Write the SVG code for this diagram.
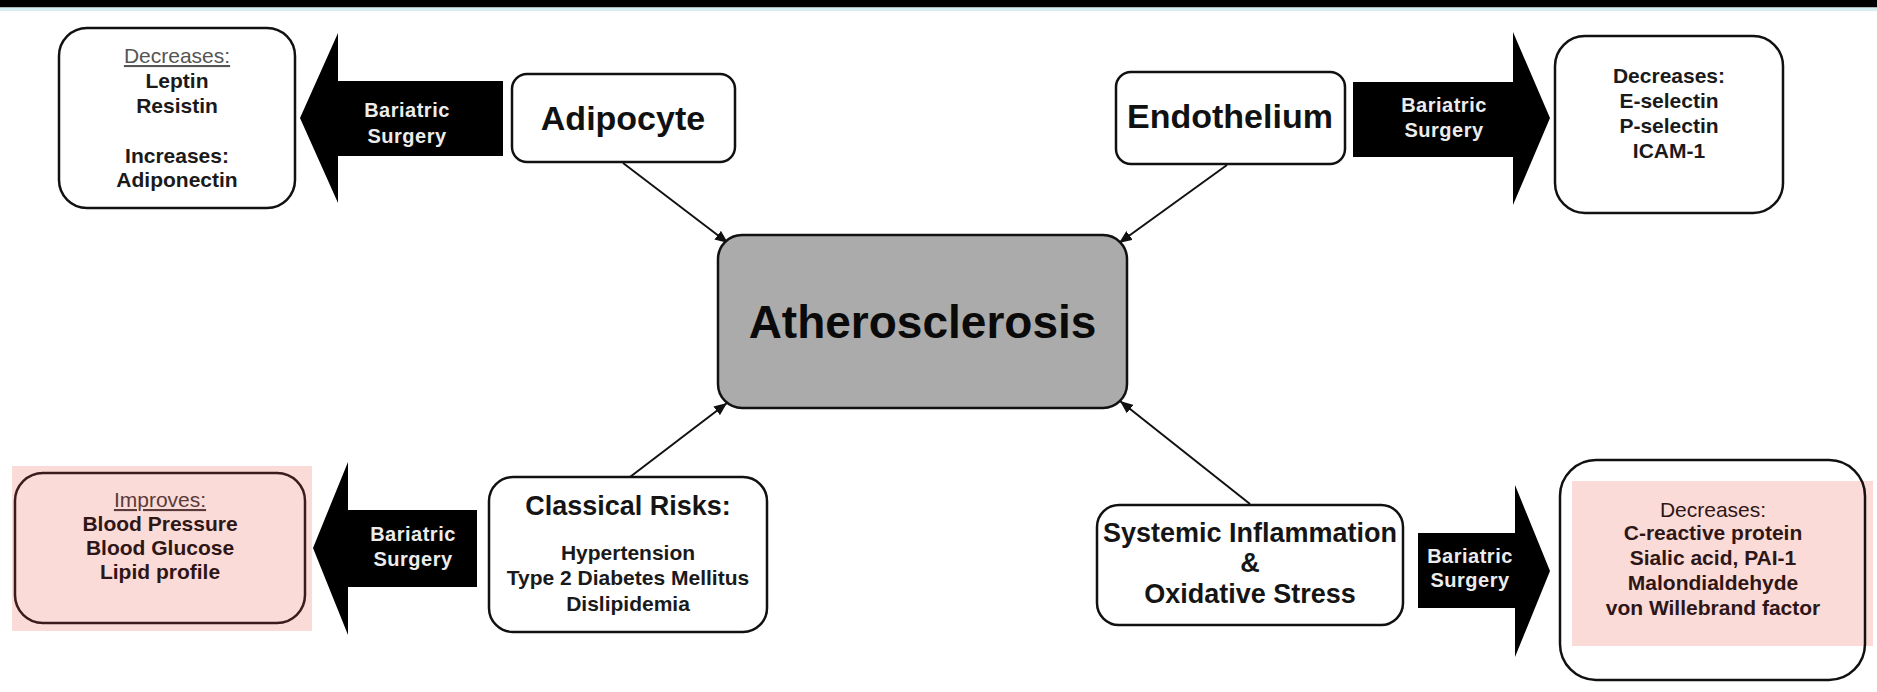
<svg xmlns="http://www.w3.org/2000/svg" width="1877" height="692" viewBox="0 0 1877 692">
<defs>
<style>
text{font-family:"Liberation Sans",Arial,sans-serif;text-anchor:middle;}
.box{fill:#fff;stroke:#111;stroke-width:2.5;}
.t21{font-size:21px;font-weight:bold;fill:#1a1a1a;}
.hdr{font-size:21px;font-weight:normal;fill:#555;text-decoration:underline;}
.big{font-size:34px;font-weight:bold;fill:#111;}
.mid{font-size:27px;font-weight:bold;fill:#151515;}
.arrow{fill:#000;}
.at{font-size:20px;font-weight:bold;fill:#ececec;letter-spacing:0.5px;}
.pk{fill:#2e1616;}
.conn{stroke:#111;stroke-width:2;fill:none;marker-end:url(#ah);}
</style>
<marker id="ah" viewBox="0 0 12 10" refX="12" refY="5" markerWidth="13" markerHeight="11" markerUnits="userSpaceOnUse" orient="auto">
<path d="M0,0 L12,5 L0,10 z" fill="#111"/>
</marker>
</defs>
<rect x="0" y="0" width="1877" height="692" fill="#fff"/>
<rect x="0" y="0" width="1877" height="7.5" fill="#000"/>
<rect x="0" y="7.5" width="1877" height="3.5" fill="#d6edf1"/>

<g id="connectors">
<line class="conn" x1="623" y1="163" x2="728" y2="243"/>
<line class="conn" x1="1227" y1="165" x2="1119" y2="243"/>
<line class="conn" x1="630" y1="477" x2="727" y2="403"/>
<line class="conn" x1="1250" y1="504" x2="1120" y2="401"/>
</g>

<g id="athero">
<rect x="718" y="235" width="409" height="173" rx="24" fill="#ababab" stroke="#111" stroke-width="2.5"/>
<text x="922.5" y="338" style="font-size:46px;font-weight:bold;fill:#0a0a0a">Atherosclerosis</text>
</g>

<g id="adipocyte">
<rect class="box" x="512" y="74" width="223" height="88" rx="15"/>
<text class="big" x="623" y="130">Adipocyte</text>
</g>

<g id="endothelium">
<rect class="box" x="1116" y="72" width="229" height="92" rx="15"/>
<text class="big" x="1230" y="128">Endothelium</text>
</g>

<g id="classical">
<rect class="box" x="489" y="477" width="278" height="155" rx="24"/>
<text class="mid" x="628" y="515">Classical Risks:</text>
<text class="t21" x="628" y="560">Hypertension</text>
<text class="t21" x="628" y="585">Type 2 Diabetes Mellitus</text>
<text class="t21" x="628" y="611">Dislipidemia</text>
</g>

<g id="systemic">
<rect class="box" x="1097" y="505" width="306" height="120" rx="22"/>
<text class="mid" x="1250" y="542">Systemic Inflammation</text>
<text class="mid" x="1250" y="572">&amp;</text>
<text class="mid" x="1250" y="603">Oxidative Stress</text>
</g>

<g id="arrow-tl">
<polygon class="arrow" points="300,118 338,33 338,81 503,81 503,156 338,156 338,203"/>
<text class="at" x="407" y="117">Bariatric</text>
<text class="at" x="407" y="143">Surgery</text>
</g>

<g id="arrow-tr">
<polygon class="arrow" points="1353,82 1513,82 1513,32 1550,118 1513,205 1513,157 1353,157"/>
<text class="at" x="1444" y="112">Bariatric</text>
<text class="at" x="1444" y="137">Surgery</text>
</g>

<g id="arrow-bl">
<polygon class="arrow" points="313,548 348,462 348,510 477,510 477,587 348,587 348,635"/>
<text class="at" x="413" y="541">Bariatric</text>
<text class="at" x="413" y="566">Surgery</text>
</g>

<g id="arrow-br">
<polygon class="arrow" points="1418,533 1515,533 1515,485 1550,571 1515,657 1515,608 1418,608"/>
<text class="at" x="1470" y="563">Bariatric</text>
<text class="at" x="1470" y="587">Surgery</text>
</g>

<g id="adipo-effects">
<rect class="box" x="59" y="28" width="236" height="180" rx="28"/>
<text class="hdr" x="177" y="63">Decreases:</text>
<text class="t21" x="177" y="88">Leptin</text>
<text class="t21" x="177" y="113">Resistin</text>
<text class="t21" x="177" y="163">Increases:</text>
<text class="t21" x="177" y="187">Adiponectin</text>
</g>

<g id="endo-effects">
<rect class="box" x="1555" y="36" width="228" height="177" rx="30"/>
<text class="t21" x="1669" y="83">Decreases:</text>
<text class="t21" x="1669" y="108">E-selectin</text>
<text class="t21" x="1669" y="133">P-selectin</text>
<text class="t21" x="1669" y="158">ICAM-1</text>
</g>

<g id="risk-effects">
<rect x="12" y="466" width="300" height="165" fill="#fbdbd7"/>
<rect x="15" y="473" width="290" height="150" rx="28" fill="none" stroke="#3a1c1c" stroke-width="2.5"/>
<text class="hdr" x="160" y="507" style="fill:#5a3a3a">Improves:</text>
<text class="t21 pk" x="160" y="531">Blood Pressure</text>
<text class="t21 pk" x="160" y="555">Blood Glucose</text>
<text class="t21 pk" x="160" y="579">Lipid profile</text>
</g>

<g id="inflam-effects">
<rect x="1560" y="460" width="305" height="220" rx="36" fill="#fff"/>
<rect x="1572" y="481" width="301" height="165" fill="#fbdbd7"/>
<rect x="1560" y="460" width="305" height="220" rx="36" fill="none" stroke="#111" stroke-width="2.5"/>
<text class="t21 pk" x="1713" y="517" style="font-weight:normal">Decreases:</text>
<text class="t21 pk" x="1713" y="540">C-reactive protein</text>
<text class="t21 pk" x="1713" y="565">Sialic acid, PAI-1</text>
<text class="t21 pk" x="1713" y="590">Malondialdehyde</text>
<text class="t21 pk" x="1713" y="615">von Willebrand factor</text>
</g>
</svg>
